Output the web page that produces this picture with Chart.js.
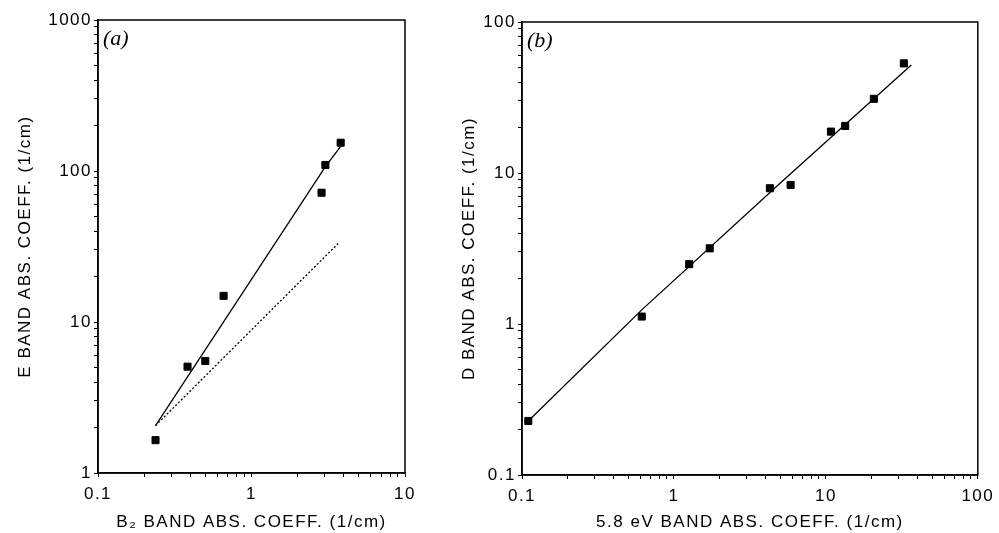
<!DOCTYPE html>
<html>
<head>
<meta charset="utf-8">
<script src="https://cdn.jsdelivr.net/npm/chart.js@4.4.0/dist/chart.umd.min.js"></script>
<style>
  body{margin:0;background:#fff;width:999px;height:533px;overflow:hidden;position:relative}
  canvas{position:absolute;top:0}
  #chartA{left:0}
  #chartB{left:440px}
</style>
</head>
<body>
<canvas id="chartA" width="440" height="533"></canvas>
<canvas id="chartB" width="559" height="533"></canvas>
<script>
/* ---------- data ---------- */
// panel (a): E band vs B2 band
const aX = [0.237, 0.383, 0.50, 0.658, 2.86, 3.03, 3.81];
const aY = [1.65, 5.06, 5.52, 14.9, 71.8, 109.6, 153.9];
const aFitX = [0.237, 3.03, 3.8];
const aFitY = [2.06, 107, 145];
const aDotX = [0.237, 3.68];
const aDotY = [2.06, 33.2];
const aXTickLabels = [0.1, 1, 10];
const aYTickLabels = [1, 10, 100, 1000];

// panel (b): D band vs 5.8 eV band
const bX = [0.11, 0.614, 1.26, 1.72, 4.28, 5.86, 10.8, 13.4, 20.7, 32.6];
const bY = [0.228, 1.12, 2.49, 3.17, 7.93, 8.33, 18.8, 20.5, 31.0, 53.2];
const bFitX = [0.11, 0.614, 5.12, 36.5];
const bFitY = [0.228, 1.24, 8.75, 51.9];
const bXTickLabels = [0.1, 1, 10, 100];
const bYTickLabels = [0.1, 1, 10, 100];

/* ---------- helpers ---------- */
const FONT = "'Liberation Sans', Arial, Helvetica, sans-serif";
const pts = (xs, ys) => xs.map((x, i) => ({x, y: ys[i]}));

// every 1..9 x decade between the outer labels, for the tick marks
function logTicks(labels){
  const out = [];
  for(let i = 0; i < labels.length - 1; i++){
    for(let k = 1; k < 10; k++) out.push({value: labels[i] * k});
  }
  out.push({value: labels[labels.length - 1]});
  return out;
}

function fmt(v){ return v < 1 ? v.toFixed(1) : String(Math.round(v)); }

function axis(labels, title, fixed, horizontal){
  return {
    type: 'logarithmic',
    min: labels[0],
    max: labels[labels.length - 1],
    afterBuildTicks: s => { s.ticks = logTicks(labels); },
    afterFit: s => { if(horizontal) s.height = fixed; else s.width = fixed; },
    ticks: {
      autoSkip: false, maxRotation: 0, color: '#000',
      padding: horizontal ? 7 : 2,
      font: {family: FONT, size: 17},
      callback: v => labels.some(l => Math.abs(l - v) < l * 1e-6) ? fmt(v) : ''
    },
    grid: {display: true, drawOnChartArea: false, drawTicks: true, tickLength: 4, color: '#000', lineWidth: 1},
    border: {display: true, color: '#000', width: 1.5},
    title: {
      display: true, text: title, color: '#000',
      font: {family: FONT, size: 17},
      padding: horizontal ? {top: 0, bottom: 0} : {top: fixed > 90 ? 15 : 19, bottom: 0}
    }
  };
}

// frame around the plot + panel letter; wider text like the scanned figure
const framePlugin = {
  id: 'frame',
  beforeDraw(chart){ chart.ctx.letterSpacing = '1.5px'; },
  afterDraw(chart, args, opts){
    const {ctx, chartArea: a} = chart;
    ctx.save();
    ctx.strokeStyle = '#000';
    ctx.lineWidth = 1.5;
    ctx.strokeRect(a.left, a.top, a.right - a.left, a.bottom - a.top);
    ctx.letterSpacing = '0px';
    ctx.fillStyle = '#000';
    ctx.font = "italic 22px 'Liberation Serif', 'Times New Roman', serif";
    ctx.textBaseline = 'middle';
    ctx.fillText(opts.label, a.left + 5, a.top + 19);
    ctx.restore();
  }
};

function scatterSet(data){
  return {type: 'scatter', data, pointStyle: 'rect', pointRadius: 5, pointBackgroundColor: '#000',
          pointBorderColor: '#000', borderWidth: 1, showLine: false};
}
function lineSet(data, dash){
  return {type: 'line', data, borderColor: '#000', borderWidth: 1.3, borderDash: dash || [],
          pointRadius: 0, fill: false, tension: 0};
}

function makeChart(id, cfg){
  return new Chart(document.getElementById(id), {
    data: {datasets: cfg.datasets},
    options: {
      responsive: false, animation: false, devicePixelRatio: 1,
      layout: {padding: cfg.padding},
      plugins: {legend: {display: false}, tooltip: {enabled: false}, frame: {label: cfg.label}},
      scales: {x: cfg.x, y: cfg.y}
    },
    plugins: [framePlugin]
  });
}

/* ---------- charts ---------- */
makeChart('chartA', {
  label: '(a)',
  padding: {left: 0, top: 20, right: 35, bottom: 0},
  datasets: [
    scatterSet(pts(aX, aY)),
    lineSet(pts(aFitX, aFitY)),
    lineSet(pts(aDotX, aDotY), [2, 2])
  ],
  x: axis(aXTickLabels, 'B\u2082 BAND ABS. COEFF. (1/cm)', 60, true),
  y: axis(aYTickLabels, 'E BAND ABS. COEFF. (1/cm)', 98, false)
});

makeChart('chartB', {
  label: '(b)',
  padding: {left: 0, top: 22, right: 19, bottom: 0},
  datasets: [
    scatterSet(pts(bX, bY)),
    lineSet(pts(bFitX, bFitY))
  ],
  x: axis(bXTickLabels, '5.8 eV BAND ABS. COEFF. (1/cm)', 58, true),
  y: axis(bYTickLabels, 'D BAND ABS. COEFF. (1/cm)', 82, false)
});
</script>
</body>
</html>
